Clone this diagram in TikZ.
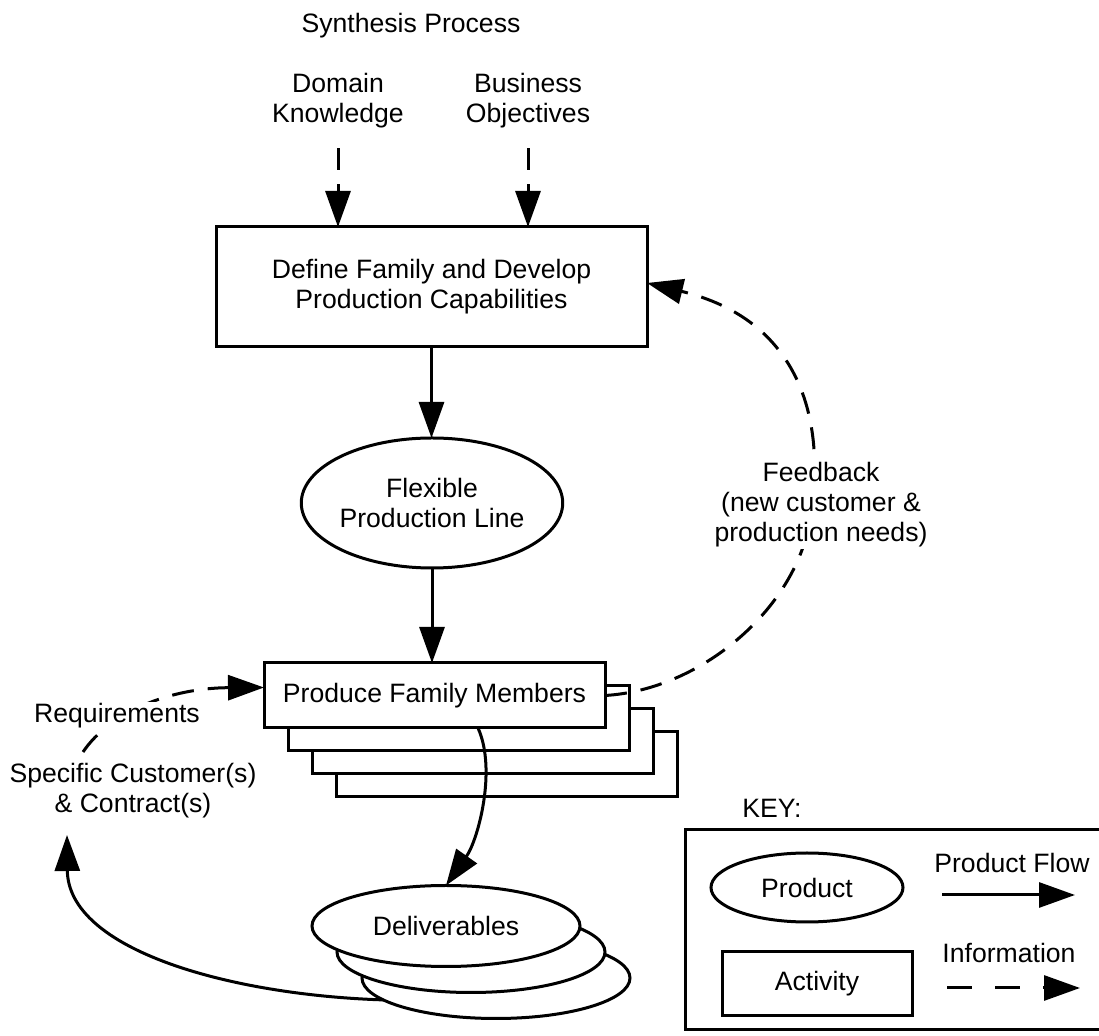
\documentclass[tikz,border=0pt]{standalone}
\usepackage{fontspec}
\setmainfont{Liberation Sans}
\usetikzlibrary{arrows.meta,shapes.geometric,calc}
\begin{document}
\begin{tikzpicture}[x=0.5pt,y=-0.5pt,
  every node/.style={font=\fontsize{13.3}{15}\selectfont},
  lbl/.style={align=center},
  activity/.style={draw, rectangle, line width=1.5pt, fill=white, inner sep=0pt, outer sep=0pt, align=center},
  product/.style={draw, ellipse, line width=1.5pt, fill=white, inner sep=0pt, outer sep=0pt, align=center},
  flow/.style={line width=1.5pt, -{Triangle[length=18pt,width=12.5pt]}},
  info/.style={flow, dash pattern=on 11pt off 7pt}]
\useasboundingbox (0,0) rectangle (1099,1036);

% title and inputs
\node[anchor=base] (title) at (411,33) {Synthesis Process};
\node[lbl] (dk) at (338,101) {Domain\\Knowledge};
\node[lbl] (bo) at (528,101) {Business\\Objectives};

% activities and products
\node[activity, minimum width=215.5pt, minimum height=60pt] (define) at (431.5,287)
  {Define Family and Develop\\Production Capabilities};
\node[product, minimum width=116pt, minimum height=65pt] (flex) at (432,503)
  {Flexible\\Production Line};

\node[activity, minimum width=170.5pt, minimum height=32.5pt] (pfm4) at (506.5,764.5) {};
\node[activity, minimum width=170.5pt, minimum height=32.5pt] (pfm3) at (482.5,741.5) {};
\node[activity, minimum width=170.5pt, minimum height=32.5pt] (pfm2) at (458.5,718.5) {};
\node[activity, minimum width=170.5pt, minimum height=32.5pt] (pfm) at (434.5,695.5) {Produce Family Members};

\node[product, minimum width=134pt, minimum height=40.5pt] (e3) at (496,978) {};
\node[product, minimum width=134pt, minimum height=40.5pt] (e2) at (471,952) {};
\node[product, minimum width=134pt, minimum height=40.5pt] (e1) at (446,926) {Deliverables};

% input arrows
\draw[info, shorten <=6.5pt] (dk.south) -- (dk.south |- define.north);
\draw[info, shorten <=6.5pt] (bo.south) -- (bo.south |- define.north);

% product flow
\draw[flow] (define.south) -- (define.south |- flex.north);
\draw[flow] (flex.south) -- (flex.south |- pfm.north);
\draw[flow] ([xshift=21.75pt]pfm.south) .. controls (497,770) and (478,840) .. (e1.north);

% requirements
\node[lbl] (cust) at (133,791) {Specific Customer(s)\\\& Contract(s)};
\coordinate (reqstart) at (83,752);
\coordinate (custin) at (67,835);
\draw[info] (reqstart) .. controls (110,712) and (170,688) .. ([yshift=4pt]pfm.west);
\node[anchor=base, fill=white, inner sep=1pt] (req) at (117,723) {Requirements};
\draw[flow] (e3.191) .. controls (230,995) and (68,950) .. (custin);

% feedback
\draw[info] (pfm.east) .. controls (700,690) and (795,610) .. (810,520)
  .. controls (827,420) and (800,320) .. ([yshift=2pt]define.east);
\node[lbl, fill=white, inner sep=1pt] (fb) at (821,505)
  {Feedback\\(new customer \&\\production needs)};

% key
\node[anchor=base] (keyt) at (772,818) {KEY:};
\draw[line width=1.5pt] (685,830) rectangle (1110,1030);
\node[product, minimum width=96pt, minimum height=34.5pt] (kprod) at (807,887.5) {Product};
\node[activity, minimum width=95pt, minimum height=32pt] (kact) at (817,984) {Activity};
\node[anchor=base] (kflowt) at (1012,873) {Product Flow};
\node[anchor=base] (kinfot) at (1009,963) {Information};
\coordinate (kf1) at (942,895);
\coordinate (kf2) at (1075,895);
\coordinate (ki1) at (947,988);
\coordinate (ki2) at (1080,988);
\draw[flow] (kf1) -- (kf2);
\draw[flow, dash pattern=on 12.5pt off 11.5pt] (ki1) -- (ki2);
\end{tikzpicture}
\end{document}
